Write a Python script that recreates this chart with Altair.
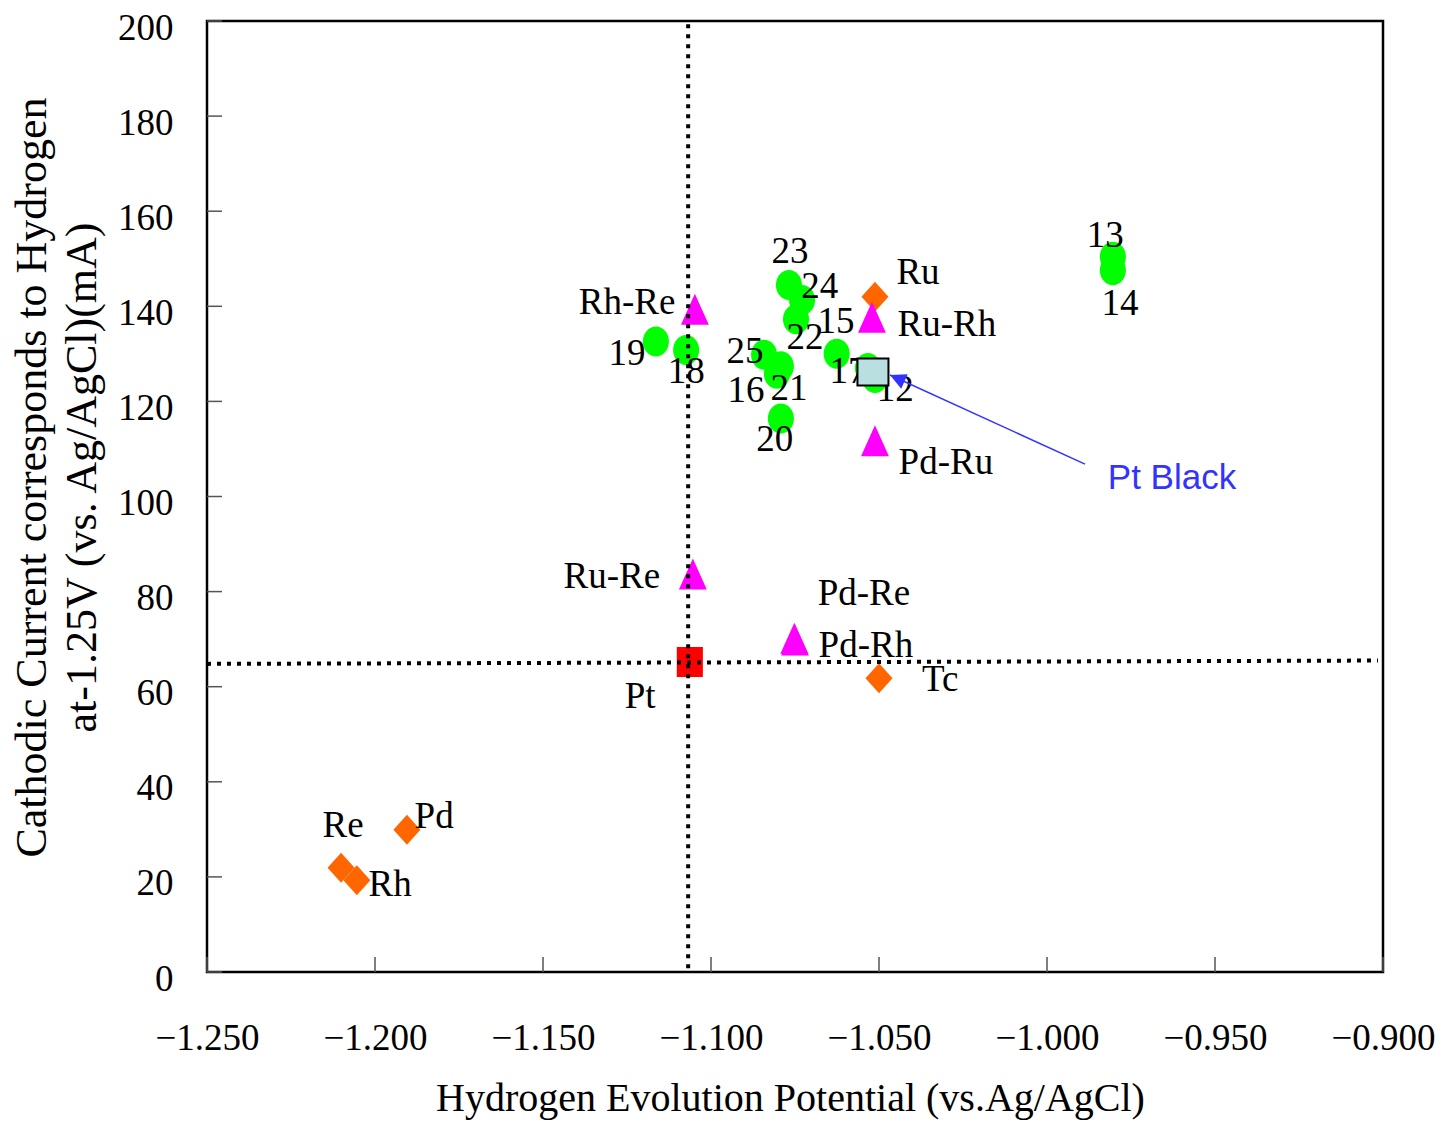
import altair as alt
import pandas as pd

# ---------------- data ----------------
# single metals (orange diamonds)
elem_names = ["Ru", "Tc", "Pd", "Re", "Rh"]
elem_x = [-1.0512, -1.0500, -1.1905, -1.2101, -1.2054]
elem_y = [142.0, 61.8, 29.9, 21.9, 19.3]

# binary alloys (magenta triangles)
alloy_names = ["Rh-Re", "Ru-Re", "Pd-Re", "Pd-Rh", "Ru-Rh", "Pd-Ru"]
alloy_x = [-1.1048, -1.1054, -1.0752, -1.0750, -1.0521, -1.0512]
alloy_y = [139.4, 83.7, 70.2, 69.8, 137.7, 111.7]

# numbered catalysts (green circles)
cat_ids = ["12", "13", "14", "15", "16", "17", "18", "19", "20", "21", "22", "23", "24", "25"]
cat_x = [-1.0512, -0.9804, -0.9804, -1.0626, -1.0804, -1.0533, -1.1074, -1.1164,
         -1.0792, -1.0792, -1.0747, -1.0768, -1.0729, -1.0842]
cat_y = [124.9, 150.4, 147.6, 130.0, 125.8, 127.0, 130.8, 132.6,
         116.4, 127.4, 137.3, 144.5, 141.3, 129.8]

# reference points
pt_x = [-1.1063]
pt_y = [65.2]
ptblack_x = [-1.0518]
ptblack_y = [126.2]

# point labels (text anchor in data units)
label_text = ["12", "13", "14", "15", "16", "17", "18", "19", "20", "21", "22", "23", "24", "25",
              "Ru", "Tc", "Pd", "Re", "Rh",
              "Rh-Re", "Ru-Re", "Pd-Re", "Pd-Rh", "Ru-Rh", "Pd-Ru", "Pt"]
label_x = [-1.0452, -0.9827, -0.9783, -1.0628, -1.0896, -1.0592, -1.1074, -1.1250, -1.0810, -1.0768,
           -1.0720, -1.0765, -1.0676, -1.0899,
           -1.0384, -1.0318, -1.1824, -1.2095, -1.1955,
           -1.1250, -1.1295, -1.0545, -1.0539, -1.0298, -1.0301, -1.1211]
label_y = [122.4, 154.8, 140.5, 136.7, 122.1, 126.2, 126.2, 130.0, 111.9, 122.6,
           133.3, 151.4, 144.1, 130.3,
           147.0, 61.4, 32.6, 30.7, 18.3,
           140.7, 83.1, 79.5, 68.6, 136.1, 107.0, 57.8]

# dotted reference lines (Pt potential and current)
ref_x = [-1.1068, -1.2500]
ref_y = [0.8, 64.8]
ref_x2 = [-1.1068, -0.9015]
ref_y2 = [200.0, 65.5]

# "Pt Black" annotation
arrow_x = [-0.98869]
arrow_y = [106.8]
arrow_x2 = [-1.04673]
arrow_y2 = [125.55]
note_text = ["Pt Black"]
note_x = [-0.9628]
note_y = [103.9]

# axes
x_ticks = [-1.25, -1.2, -1.15, -1.1, -1.05, -1.0, -0.95, -0.9]
y_ticks = [0, 20, 40, 60, 80, 100, 120, 140, 160, 180, 200]
x_title = "Hydrogen Evolution Potential (vs.Ag/AgCl)"
y_title = ["Cathodic Current corresponds to Hydrogen", "at-1.25V (vs. Ag/AgCl)(mA)"]

# ---------------- tables ----------------
elem_df = pd.DataFrame({"x": elem_x, "y": elem_y, "name": elem_names})
alloy_df = pd.DataFrame({"x": alloy_x, "y": alloy_y, "name": alloy_names})
cat_df = pd.DataFrame({"x": cat_x, "y": cat_y, "name": cat_ids})
pt_df = pd.DataFrame({"x": pt_x, "y": pt_y})
ptb_df = pd.DataFrame({"x": ptblack_x, "y": ptblack_y})
lab_df = pd.DataFrame({"x": label_x, "y": label_y, "t": label_text})
ref_df = pd.DataFrame({"x": ref_x, "y": ref_y, "x2": ref_x2, "y2": ref_y2})
arr_df = pd.DataFrame({"x": arrow_x, "y": arrow_y, "x2": arrow_x2, "y2": arrow_y2})
head_df = pd.DataFrame({"x": arrow_x2, "y": arrow_y2})
note_df = pd.DataFrame({"x": note_x, "y": note_y, "t": note_text})
xt_df = pd.DataFrame({"x": x_ticks})
yt_df = pd.DataFrame({"y": y_ticks})

SERIF = "Liberation Serif"

x_enc = alt.X(
    "x:Q",
    scale=alt.Scale(domain=[-1.25, -0.9], nice=False, zero=False),
    axis=alt.Axis(
        values=x_ticks, format=".3f", title=x_title, grid=False, ticks=False, domain=False,
        labelFont=SERIF, labelFontSize=37, labelPadding=48, labelFlush=False,
        labelOverlap=False, labelColor="black",
        titleFont=SERIF, titleFontSize=40, titleFontWeight="normal", titleColor="black",
        titleBaseline="alphabetic", titleY=138, titleX=583,
    ),
)
y_enc = alt.Y(
    "y:Q",
    scale=alt.Scale(domain=[0, 200], nice=False, zero=False),
    axis=alt.Axis(
        values=y_ticks, format="d", title=y_title, grid=False, ticks=False, domain=False,
        labelFont=SERIF, labelFontSize=37, labelPadding=34, labelFlush=False,
        labelOverlap=False, labelColor="black", labelOffset=7,
        titleFont=SERIF, titleFontSize=44, titleFontWeight="normal", titleColor="black",
        titleLineHeight=50, titleBaseline="middle", titleAngle=270,
        titleX=-175, titleY=456, titleAlign="center",
    ),
)

ELLIPSE = "M0,-1A0.87,1,0,1,1,0,1A0.87,1,0,1,1,0,-1Z"
DIAMOND = "M0,-1L0.9,0L0,1L-0.9,0Z"
TRIANGLE = "M0,-1L-0.9,1L0.9,1Z"
TALL_SQ = "M-0.87,-1L0.87,-1L0.87,1L-0.87,1Z"
WIDE_SQ = "M-1,-0.87L1,-0.87L1,0.87L-1,0.87Z"
HEAD = "M0,0L-0.5,1L0.5,1Z"

xticks_layer = alt.Chart(xt_df).mark_rule(color="#555555", strokeWidth=1.5).encode(
    x=x_enc, y=alt.value(951), y2=alt.value(936)
)
yticks_layer = alt.Chart(yt_df).mark_rule(color="#555555", strokeWidth=1.5).encode(
    y=y_enc, x=alt.value(0), x2=alt.value(15)
)

circles = alt.Chart(cat_df).mark_point(shape=ELLIPSE, filled=True, size=900, color="#00FF00", opacity=1).encode(
    x=x_enc, y=y_enc
)
diamonds = alt.Chart(elem_df).mark_point(shape=DIAMOND, filled=True, size=900, color="#FF6600", opacity=1).encode(
    x=x_enc, y=y_enc
)
triangles = alt.Chart(alloy_df).mark_point(shape=TRIANGLE, filled=True, size=961, color="#FF00FF", opacity=1).encode(
    x=x_enc, y=y_enc
)
pt_layer = alt.Chart(pt_df).mark_point(shape=TALL_SQ, filled=True, size=900, color="#FF0000", opacity=1).encode(
    x=x_enc, y=y_enc
)
ref_lines = alt.Chart(ref_df).mark_rule(color="black", strokeWidth=4, strokeDash=[4, 6]).encode(
    x=x_enc, y=y_enc, x2="x2:Q", y2="y2:Q"
)
labels = alt.Chart(lab_df).mark_text(
    font=SERIF, fontSize=37, color="black", align="center", baseline="middle"
).encode(x=x_enc, y=y_enc, text="t:N")
ptb_layer = alt.Chart(ptb_df).mark_point(
    shape=WIDE_SQ, filled=True, size=961, fill="#B9DFE1", stroke="black", strokeWidth=2, opacity=1
).encode(x=x_enc, y=y_enc)
arrow_line = alt.Chart(arr_df).mark_rule(color="#3333FF", strokeWidth=1.5).encode(
    x=x_enc, y=y_enc, x2="x2:Q", y2="y2:Q"
)
arrow_head = alt.Chart(head_df).mark_point(
    shape=HEAD, filled=True, size=1000, color="#3333FF", angle=294, opacity=1
).encode(x=x_enc, y=y_enc)
note = alt.Chart(note_df).mark_text(
    font="Liberation Sans", fontSize=35, color="#3333FF", align="center", baseline="middle"
).encode(x=x_enc, y=y_enc, text="t:N")

chart = alt.layer(
    xticks_layer, yticks_layer, circles, diamonds, triangles, pt_layer,
    ref_lines, labels, ptb_layer, arrow_line, arrow_head, note,
).properties(
    width=1176, height=951,
    autosize=alt.AutoSizeParams(type="none"),
    padding={"left": 199, "top": 13, "right": 52, "bottom": 148},
    background="white",
).configure_view(stroke="black", strokeWidth=2.5)

chart.save("out.html", embed_options={"renderer": "svg", "actions": False})
